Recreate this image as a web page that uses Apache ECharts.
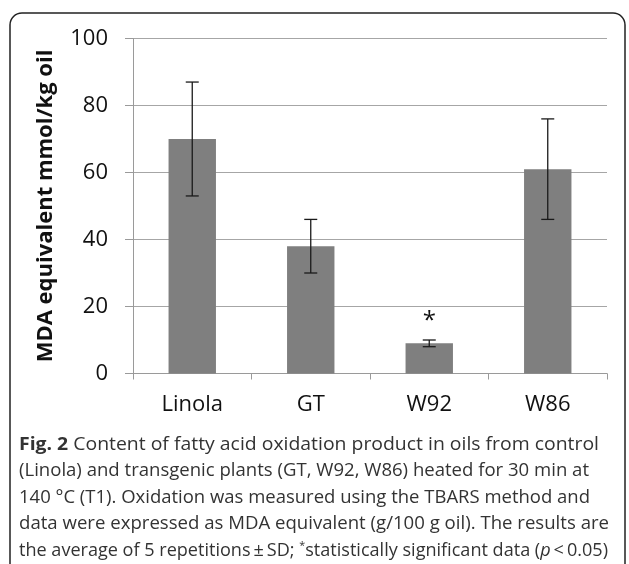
<!DOCTYPE html>
<html>
<head>
<meta charset="utf-8">
<script src="https://cdn.jsdelivr.net/npm/echarts@6/dist/echarts.min.js"></script>
<style>
  html, body { margin: 0; padding: 0; background: #fff; }
  #chart { width: 629px; height: 564px; }
</style>
</head>
<body>
<div id="chart"></div>
<script>
// Oil samples and their MDA-equivalent means with standard deviations
const categories = ['Linola', 'GT', 'W92', 'W86'];
const meanValues = [70, 38, 9, 61];
const sdValues = [17, 8, 1, 15];
const significance = ['', '', '*', ''];
const yTicks = { min: 0, max: 100, interval: 20 };

// Figure caption, one entry per printed line ({b|..} bold, {sup|..} superscript, {i|..} italic)
const captionLines = [
  '{b|Fig. 2} Content of fatty acid oxidation product in oils from control',
  '(Linola) and transgenic plants (GT, W92, W86) heated for 30 min at',
  '140 °C (T1). Oxidation was measured using the TBARS method and',
  'data were expressed as MDA equivalent (g/100 g oil). The results are',
  'the average of 5 repetitions\u2009±\u2009SD; {sup|*}statistically significant data ({i|p}\u2009<\u20090.05)'
];
// right edge each caption line is set flush to
const captionRight = [599, 589, 590, 609, 608];

const FONT = '"Open Sans", "Noto Sans", sans-serif';
const CAP_SIZE = 18.5;
const CAP_LEFT = 19;
const CAP_TOP = 431;
const CAP_LINE = 26.5;

const capStyles = {
  plain: 'normal normal ' + CAP_SIZE + 'px ' + FONT,
  b: 'normal bold ' + CAP_SIZE + 'px ' + FONT,
  sup: 'normal normal 11px ' + FONT,
  i: 'italic normal ' + CAP_SIZE + 'px ' + FONT
};

// measure a rich caption line so it can be fitted to its width
const measureCtx = document.createElement('canvas').getContext('2d');
function measureRich(line) {
  let w = 0;
  const re = /\{(\w+)\|([^}]*)\}|([^{]+)/g;
  let m;
  while ((m = re.exec(line)) !== null) {
    if (m[1]) { measureCtx.font = capStyles[m[1]]; w += measureCtx.measureText(m[2]).width; }
    else { measureCtx.font = capStyles.plain; w += measureCtx.measureText(m[3]).width; }
  }
  return w;
}

const richDef = {
  b: { fontWeight: 'bold', fontSize: CAP_SIZE, fontFamily: FONT, fill: '#333' },
  sup: { fontSize: 11, fontFamily: FONT, fill: '#333', verticalAlign: 'top', padding: [0, 0, 8, 0] },
  i: { fontStyle: 'italic', fontSize: CAP_SIZE, fontFamily: FONT, fill: '#333' }
};

const chart = echarts.init(document.getElementById('chart'), null, { renderer: 'canvas' });

function build() {
  const captionGraphics = captionLines.map(function (line, k) {
    const w = measureRich(line);
    const sx = (captionRight[k] - CAP_LEFT) / w;
    return {
      type: 'text',
      x: CAP_LEFT,
      y: CAP_TOP + k * CAP_LINE + CAP_LINE / 2,
      scaleX: sx,
      style: {
        text: line,
        font: capStyles.plain,
        fill: '#333',
        verticalAlign: 'middle',
        rich: richDef
      },
      silent: true
    };
  });

  const errorData = categories.map((c, i) => [i, meanValues[i] - sdValues[i], meanValues[i] + sdValues[i], significance[i]]);

  chart.setOption({
    animation: false,
    backgroundColor: '#fff',
    grid: { left: 133, right: 22, top: 38.5, bottom: 190.5 },
    xAxis: {
      type: 'category',
      data: categories,
      axisLine: { lineStyle: { color: '#9a9a9a', width: 1 } },
      axisTick: { show: true, length: 6, lineStyle: { color: '#9a9a9a' } },
      axisLabel: { fontFamily: FONT, fontSize: 22, color: '#111', margin: 20 }
    },
    yAxis: {
      type: 'value',
      min: yTicks.min, max: yTicks.max, interval: yTicks.interval,
      name: 'MDA equivalent mmol/kg oil',
      nameLocation: 'middle',
      nameGap: 76,
      nameRotate: 90,
      nameTextStyle: { fontFamily: FONT, fontSize: 22, fontWeight: 'bold', color: '#111' },
      axisLine: { show: true, lineStyle: { color: '#9a9a9a', width: 1 } },
      axisTick: { show: true, length: 8, lineStyle: { color: '#9a9a9a' } },
      splitLine: { lineStyle: { color: '#a6a6a6', width: 1 } },
      axisLabel: { fontFamily: FONT, fontSize: 22, color: '#111', margin: 25 }
    },
    series: [
      {
        type: 'bar',
        data: meanValues,
        barWidth: '40%',
        itemStyle: { color: '#7f7f7f' },
        z: 2
      },
      {
        type: 'custom',
        data: errorData,
        z: 3,
        renderItem: function (params, api) {
          const x = api.value(0);
          const lo = api.coord([x, api.value(1)]);
          const hi = api.coord([x, api.value(2)]);
          const cap = 6.5;
          const style = { stroke: '#1a1a1a', lineWidth: 1.3 };
          const children = [
            { type: 'line', shape: { x1: hi[0], y1: hi[1], x2: lo[0], y2: lo[1] }, style: style },
            { type: 'line', shape: { x1: hi[0] - cap, y1: hi[1], x2: hi[0] + cap, y2: hi[1] }, style: style },
            { type: 'line', shape: { x1: lo[0] - cap, y1: lo[1], x2: lo[0] + cap, y2: lo[1] }, style: style }
          ];
          const mark = api.value(3);
          if (mark) {
            children.push({
              type: 'text',
              style: {
                text: mark, x: hi[0], y: hi[1] - 7,
                fill: '#111', font: '24px ' + FONT,
                align: 'center', verticalAlign: 'bottom'
              }
            });
          }
          return { type: 'group', children: children };
        }
      }
    ],
    graphic: [
      {
        type: 'rect',
        shape: { x: 10, y: 13, width: 615, height: 700, r: 12 },
        style: { fill: 'none', stroke: '#222', lineWidth: 1.5 },
        silent: true
      }
    ].concat(captionGraphics)
  });
}

if (document.fonts && document.fonts.load) {
  Promise.all([
    document.fonts.load(capStyles.plain),
    document.fonts.load(capStyles.b),
    document.fonts.load(capStyles.i)
  ]).then(build, build);
} else {
  build();
}
</script>
</body>
</html>
